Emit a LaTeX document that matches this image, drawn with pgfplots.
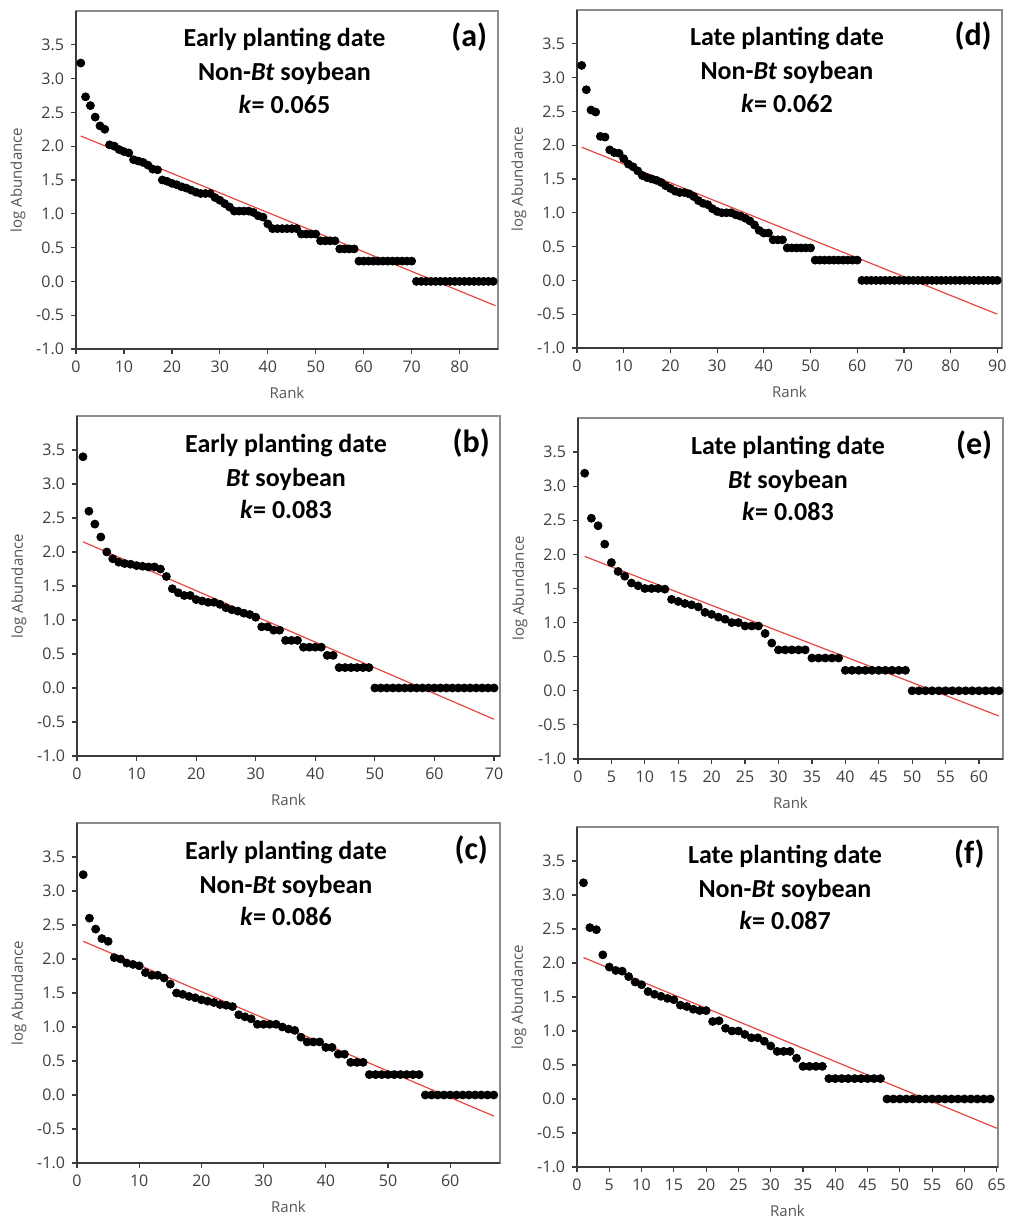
\documentclass[border=0pt]{standalone}
\usepackage{fontspec}
\setmainfont{Carlito}
\newfontfamily\tickfont{Open Sans}
\usepackage{pgfplots}
\pgfplotsset{compat=1.18}
\definecolor{tickgray}{HTML}{3F3F3F}
\definecolor{labelgray}{HTML}{555555}
\definecolor{fitred}{HTML}{E8473F}

\pgfplotsset{
  panel/.style={
    scale only axis, anchor=south west,
    xmin=0, ymin=-1, ymax=4,
    ytick={-1,-0.5,0,0.5,1,1.5,2,2.5,3,3.5},
    axis line style={draw=black!45, line width=0.7pt},
    xtick pos=left, ytick pos=left,
    tick align=outside, major tick length=2.5pt,
    tick style={draw=black!77, line width=0.6pt},
    ticklabel style={font=\tickfont\fontsize{8}{9.5}\selectfont, text=tickgray},
    yticklabel={\pgfmathprintnumber[fixed,fixed zerofill,precision=1,assume math mode=true]{\tick}},
    xticklabel={\pgfmathprintnumber[assume math mode=true]{\tick}},
    xlabel={Rank}, ylabel={log Abundance},
    every axis x label/.style={at={(axis description cs:0.5,0)}, yshift=-22pt, anchor=center,
      font=\tickfont\fontsize{7.5}{9}\selectfont, text=labelgray},
    every axis y label/.style={at={(axis description cs:0,0.5)}, xshift=-29pt, rotate=90, anchor=center,
      font=\tickfont\fontsize{7.5}{9}\selectfont, text=labelgray},
    clip=false,
  },
  darkedge/.style={draw=black!77, line width=0.8pt, no marks, forget plot},
  dots/.style={only marks, mark=*, mark size=2pt, mark options={draw=black, fill=black}},
  fit/.style={draw=fitred, line width=0.6pt, no marks},
}
\newcommand\titles[4]{%
  \node[anchor=base, inner sep=0pt, font=\bfseries\fontsize{13}{15}\selectfont] at (rel axis cs:0.494,0.894) {#1};
  \node[anchor=base, inner sep=0pt, font=\bfseries\fontsize{13}{15}\selectfont] at (rel axis cs:0.494,0.793) {#2};
  \node[anchor=base, inner sep=0pt, font=\bfseries\fontsize{13}{15}\selectfont] at (rel axis cs:0.494,0.698) {\textit{k}= #3};
  \node[anchor=base, inner sep=0pt, font=\bfseries\fontsize{16}{18}\selectfont] at (rel axis cs:0.932,0.894) {#4};}

\begin{document}
\begin{tikzpicture}
\useasboundingbox (0,0) rectangle (504pt,609pt);

% (a)
\begin{axis}[panel, at={(38pt,434.5pt)}, width=211pt, height=169pt, xmax=88, xtick={0,10,...,80}]
\addplot[darkedge] coordinates {(0,4) (0,-1) (88,-1)};
\addplot[fit] coordinates {(1,2.15) (87.5,-0.36)};
\addplot[dots] coordinates {
(1,3.23)(2,2.73)(3,2.60)(4,2.43)(5,2.30)(6,2.25)(7,2.02)(8,2.00)(9,1.95)(10,1.92)
(11,1.90)(12,1.80)(13,1.78)(14,1.76)(15,1.72)(16,1.66)(17,1.65)(18,1.50)(19,1.48)(20,1.45)
(21,1.43)(22,1.40)(23,1.38)(24,1.35)(25,1.32)(26,1.30)(27,1.30)(28,1.30)(29,1.24)(30,1.20)
(31,1.15)(32,1.10)(33,1.04)(34,1.04)(35,1.04)(36,1.04)(37,1.02)(38,0.97)(39,0.95)(40,0.85)
(41,0.78)(42,0.78)(43,0.78)(44,0.78)(45,0.78)(46,0.78)(47,0.70)(48,0.70)(49,0.70)(50,0.70)
(51,0.60)(52,0.60)(53,0.60)(54,0.60)(55,0.48)(56,0.48)(57,0.48)(58,0.48)(59,0.30)(60,0.30)
(61,0.30)(62,0.30)(63,0.30)(64,0.30)(65,0.30)(66,0.30)(67,0.30)(68,0.30)(69,0.30)(70,0.30)
(71,0)(72,0)(73,0)(74,0)(75,0)(76,0)(77,0)(78,0)(79,0)(80,0)
(81,0)(82,0)(83,0)(84,0)(85,0)(86,0)(87,0)};
\titles{Early planting date}{Non-\textit{Bt} soybean}{0.065}{(a)}
\end{axis}

% (d)
\begin{axis}[panel, at={(288.5pt,435pt)}, width=212.5pt, height=169pt, xmax=91, xtick={0,10,...,90}]
\addplot[darkedge] coordinates {(0,4) (0,-1) (91,-1)};
\addplot[fit] coordinates {(1,1.97) (90,-0.50)};
\addplot[dots] coordinates {
(1,3.18)(2,2.82)(3,2.52)(4,2.49)(5,2.13)(6,2.12)(7,1.93)(8,1.89)(9,1.88)(10,1.80)
(11,1.72)(12,1.68)(13,1.62)(14,1.55)(15,1.52)(16,1.50)(17,1.48)(18,1.45)(19,1.40)(20,1.36)
(21,1.32)(22,1.30)(23,1.30)(24,1.28)(25,1.24)(26,1.18)(27,1.14)(28,1.12)(29,1.06)(30,1.02)
(31,1.00)(32,1.00)(33,1.00)(34,0.97)(35,0.95)(36,0.92)(37,0.88)(38,0.82)(39,0.74)(40,0.70)
(41,0.70)(42,0.60)(43,0.60)(44,0.60)(45,0.48)(46,0.48)(47,0.48)(48,0.48)(49,0.48)(50,0.48)
(51,0.30)(52,0.30)(53,0.30)(54,0.30)(55,0.30)(56,0.30)(57,0.30)(58,0.30)(59,0.30)(60,0.30)
(61,0)(62,0)(63,0)(64,0)(65,0)(66,0)(67,0)(68,0)(69,0)(70,0)
(71,0)(72,0)(73,0)(74,0)(75,0)(76,0)(77,0)(78,0)(79,0)(80,0)
(81,0)(82,0)(83,0)(84,0)(85,0)(86,0)(87,0)(88,0)(89,0)(90,0)};
\titles{Late planting date}{Non-\textit{Bt} soybean}{0.062}{(d)}
\end{axis}

% (b)
\begin{axis}[panel, at={(38.5pt,231pt)}, width=211.5pt, height=170pt, xmax=71, xtick={0,10,...,70}]
\addplot[darkedge] coordinates {(0,4) (0,-1) (71,-1)};
\addplot[fit] coordinates {(1,2.15) (70,-0.46)};
\addplot[dots] coordinates {
(1,3.40)(2,2.60)(3,2.41)(4,2.22)(5,2.00)(6,1.90)(7,1.85)(8,1.83)(9,1.82)(10,1.80)
(11,1.79)(12,1.78)(13,1.78)(14,1.75)(15,1.64)(16,1.46)(17,1.40)(18,1.36)(19,1.36)(20,1.30)
(21,1.28)(22,1.26)(23,1.26)(24,1.23)(25,1.18)(26,1.15)(27,1.13)(28,1.10)(29,1.08)(30,1.04)
(31,0.90)(32,0.90)(33,0.85)(34,0.85)(35,0.70)(36,0.70)(37,0.70)(38,0.60)(39,0.60)(40,0.60)
(41,0.60)(42,0.48)(43,0.48)(44,0.30)(45,0.30)(46,0.30)(47,0.30)(48,0.30)(49,0.30)(50,0)
(51,0)(52,0)(53,0)(54,0)(55,0)(56,0)(57,0)(58,0)(59,0)(60,0)
(61,0)(62,0)(63,0)(64,0)(65,0)(66,0)(67,0)(68,0)(69,0)(70,0)};
\titles{Early planting date}{\textit{Bt} soybean}{0.083}{(b)}
\end{axis}

% (e)
\begin{axis}[panel, at={(289pt,229.5pt)}, width=212.5pt, height=170.5pt, xmax=63.6, xtick={0,5,...,60}]
\addplot[darkedge] coordinates {(0,4) (0,-1) (63.6,-1)};
\addplot[fit] coordinates {(1,1.97) (63,-0.37)};
\addplot[dots] coordinates {
(1,3.19)(2,2.53)(3,2.42)(4,2.15)(5,1.88)(6,1.75)(7,1.68)(8,1.58)(9,1.54)(10,1.50)
(11,1.50)(12,1.50)(13,1.49)(14,1.34)(15,1.31)(16,1.28)(17,1.26)(18,1.23)(19,1.15)(20,1.12)
(21,1.08)(22,1.05)(23,1.00)(24,1.00)(25,0.95)(26,0.95)(27,0.95)(28,0.84)(29,0.70)(30,0.60)
(31,0.60)(32,0.60)(33,0.60)(34,0.60)(35,0.48)(36,0.48)(37,0.48)(38,0.48)(39,0.48)(40,0.30)
(41,0.30)(42,0.30)(43,0.30)(44,0.30)(45,0.30)(46,0.30)(47,0.30)(48,0.30)(49,0.30)(50,0)
(51,0)(52,0)(53,0)(54,0)(55,0)(56,0)(57,0)(58,0)(59,0)(60,0)
(61,0)(62,0)(63,0)};
\titles{Late planting date}{\textit{Bt} soybean}{0.083}{(e)}
\end{axis}

% (c)
\begin{axis}[panel, at={(38.5pt,27.5pt)}, width=211.5pt, height=170pt, xmax=68, xtick={0,10,...,60}]
\addplot[darkedge] coordinates {(0,4) (0,-1) (68,-1)};
\addplot[fit] coordinates {(1,2.26) (67,-0.31)};
\addplot[dots] coordinates {
(1,3.24)(2,2.60)(3,2.44)(4,2.30)(5,2.26)(6,2.02)(7,2.00)(8,1.94)(9,1.92)(10,1.90)
(11,1.80)(12,1.76)(13,1.76)(14,1.72)(15,1.63)(16,1.50)(17,1.48)(18,1.45)(19,1.43)(20,1.40)
(21,1.38)(22,1.36)(23,1.33)(24,1.32)(25,1.30)(26,1.18)(27,1.15)(28,1.12)(29,1.04)(30,1.04)
(31,1.04)(32,1.04)(33,1.00)(34,0.97)(35,0.95)(36,0.85)(37,0.78)(38,0.78)(39,0.78)(40,0.70)
(41,0.70)(42,0.60)(43,0.60)(44,0.48)(45,0.48)(46,0.48)(47,0.30)(48,0.30)(49,0.30)(50,0.30)
(51,0.30)(52,0.30)(53,0.30)(54,0.30)(55,0.30)(56,0)(57,0)(58,0)(59,0)(60,0)
(61,0)(62,0)(63,0)(64,0)(65,0)(66,0)(67,0)};
\titles{Early planting date}{Non-\textit{Bt} soybean}{0.086}{(c)}
\end{axis}

% (f)
\begin{axis}[panel, at={(288.5pt,25.5pt)}, width=210.5pt, height=170pt, xmax=65.2, xtick={0,5,...,65}]
\addplot[darkedge] coordinates {(0,4) (0,-1) (65.2,-1)};
\addplot[fit] coordinates {(1,2.08) (65,-0.43)};
\addplot[dots] coordinates {
(1,3.18)(2,2.52)(3,2.49)(4,2.12)(5,1.94)(6,1.89)(7,1.88)(8,1.80)(9,1.72)(10,1.68)
(11,1.58)(12,1.54)(13,1.51)(14,1.48)(15,1.46)(16,1.38)(17,1.36)(18,1.32)(19,1.30)(20,1.30)
(21,1.14)(22,1.15)(23,1.04)(24,1.00)(25,1.00)(26,0.95)(27,0.90)(28,0.90)(29,0.85)(30,0.78)
(31,0.70)(32,0.70)(33,0.70)(34,0.60)(35,0.48)(36,0.48)(37,0.48)(38,0.48)(39,0.30)(40,0.30)
(41,0.30)(42,0.30)(43,0.30)(44,0.30)(45,0.30)(46,0.30)(47,0.30)(48,0)(49,0)(50,0)
(51,0)(52,0)(53,0)(54,0)(55,0)(56,0)(57,0)(58,0)(59,0)(60,0)
(61,0)(62,0)(63,0)(64,0)};
\titles{Late planting date}{Non-\textit{Bt} soybean}{0.087}{(f)}
\end{axis}
\end{tikzpicture}
\end{document}
